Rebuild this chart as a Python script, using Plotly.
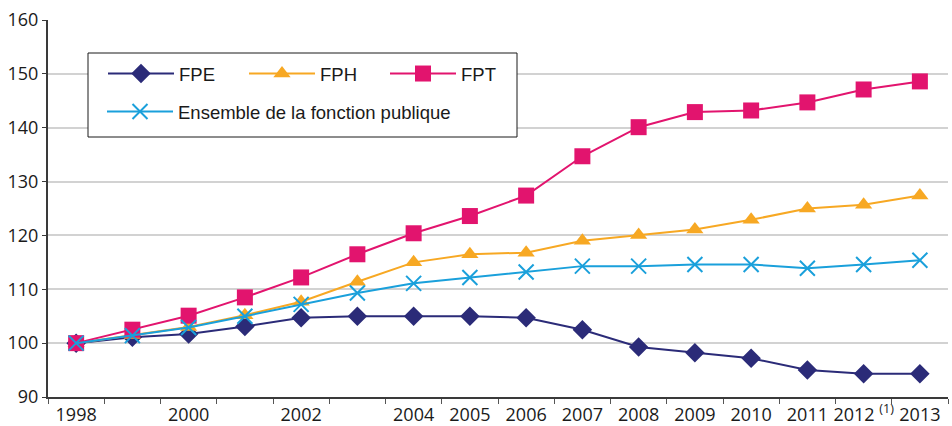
import plotly.graph_objects as go

# Indice des effectifs (base 100 en 1998)
years = list(range(1998, 2014))
fpe = [100, 101.1, 101.7, 103.1, 104.7, 105.0, 105.0, 105.0, 104.7, 102.5,
       99.3, 98.2, 97.2, 95.0, 94.3, 94.3]
fph = [100, 101.5, 103.0, 105.2, 107.7, 111.4, 115.0, 116.5, 116.8, 119.0,
       120.1, 121.1, 122.9, 125.0, 125.7, 127.4]
fpt = [100, 102.5, 105.1, 108.5, 112.2, 116.5, 120.4, 123.6, 127.4, 134.7,
       140.1, 142.9, 143.2, 144.7, 147.1, 148.6]
ensemble = [100, 101.4, 102.9, 105.0, 107.2, 109.3, 111.1, 112.2, 113.2, 114.3,
            114.3, 114.6, 114.6, 113.9, 114.6, 115.4]

tick_years = [1998, 2000, 2002, 2004, 2005, 2006, 2007, 2008, 2009, 2010, 2011, 2012, 2013]
tick_labels = ["1998", "2000", "2002", "2004", "2005", "2006", "2007", "2008",
               "2009", "2010", "2011", "2012 <sup>(1)</sup>", "2013"]

C_FPE = "#2B2B78"
C_FPH = "#F7A823"
C_FPT = "#E2146E"
C_ENS = "#1AA0DB"

# plot area in pixels
L, R, T, B = 48, 4, 20, 29
W, H = 952, 426
PW, PH = W - L - R, H - T - B


def px_x(x):
    return (x - L) / PW


def px_y(y):
    return (H - B - y) / PH


fig = go.Figure()

fig.add_trace(go.Scatter(
    x=years, y=fpe, name="FPE", mode="lines+markers",
    line=dict(color=C_FPE, width=2),
    marker=dict(symbol="diamond", size=15, color=C_FPE),
    legend="legend"))
fig.add_trace(go.Scatter(
    x=years, y=fph, name="FPH", mode="lines+markers",
    line=dict(color=C_FPH, width=2),
    marker=dict(symbol="triangle-up", size=15, color=C_FPH),
    legend="legend"))
fig.add_trace(go.Scatter(
    x=years, y=fpt, name="FPT", mode="lines+markers",
    line=dict(color=C_FPT, width=2),
    marker=dict(symbol="square", size=16, color=C_FPT),
    legend="legend"))
fig.add_trace(go.Scatter(
    x=years, y=ensemble, name="Ensemble de la fonction publique", mode="lines+markers",
    line=dict(color=C_ENS, width=2),
    marker=dict(symbol="x-thin-open", size=15, color=C_ENS,
                line=dict(color=C_ENS, width=2)),
    legend="legend2"))

legend_font = dict(family="Liberation Sans, Arial, sans-serif", size=18.5, color="#1a1a1a")

fig.update_layout(
    width=W, height=H,
    margin=dict(l=L, r=R, t=T, b=B, autoexpand=False),
    paper_bgcolor="white", plot_bgcolor="white",
    font=dict(family="Open Sans, sans-serif", size=18, color="#1a1a1a"),
    xaxis=dict(
        range=[1997.5, 2013.5],
        tickmode="array", tickvals=tick_years, ticktext=tick_labels,
        ticks="", ticklabelstandoff=0,
        showgrid=False, zeroline=False,
        showline=True, linecolor="#3a3a3a", linewidth=2,
        minor=dict(tick0=1997.5, dtick=1, ticks="outside", ticklen=5,
                   tickcolor="#555555", tickwidth=1, showgrid=False),
    ),
    yaxis=dict(
        range=[90, 160], dtick=10,
        ticks="outside", ticklen=4, tickcolor="#3a3a3a",
        showgrid=True, gridcolor="#D2D2D2", gridwidth=1.5,
        zeroline=False,
        showline=True, linecolor="#3a3a3a", linewidth=2,
    ),
    legend=dict(
        orientation="h", xref="paper", yref="paper",
        x=px_x(103), y=px_y(74), xanchor="left", yanchor="middle",
        bgcolor="rgba(0,0,0,0)", borderwidth=0,
        itemwidth=66, entrywidth=60, entrywidthmode="pixels",
        font=legend_font,
    ),
    legend2=dict(
        orientation="h", xref="paper", yref="paper",
        x=px_x(102), y=px_y(112), xanchor="left", yanchor="middle",
        bgcolor="rgba(0,0,0,0)", borderwidth=0,
        itemwidth=66,
        font=legend_font,
    ),
    shapes=[dict(
        type="rect", xref="paper", yref="paper", layer="above",
        x0=px_x(88), x1=px_x(517), y0=px_y(137), y1=px_y(53),
        fillcolor="white", line=dict(color="#1a1a1a", width=1),
    )],
)

fig.write_html("out.html")
